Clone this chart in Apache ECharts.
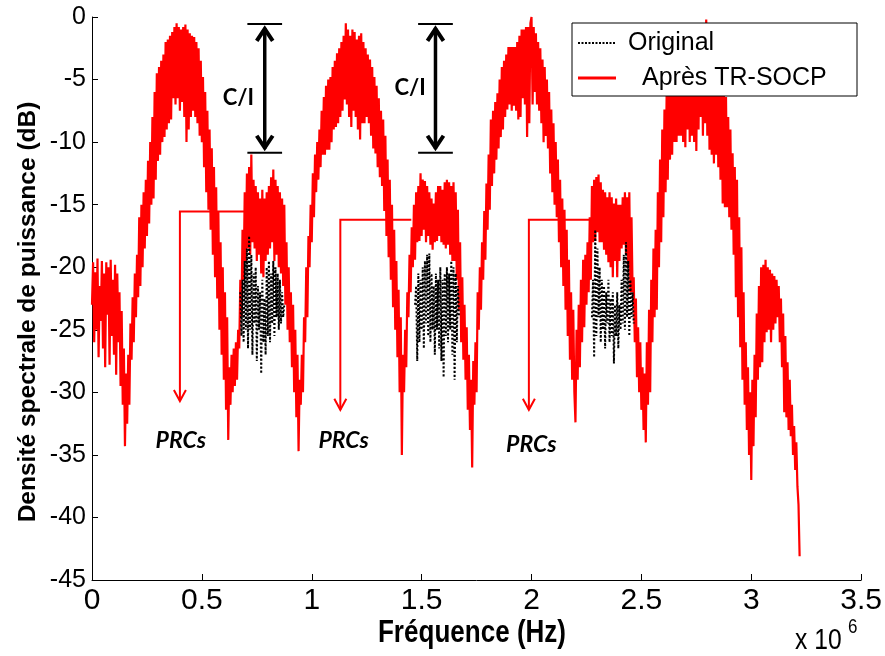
<!DOCTYPE html>
<html><head><meta charset="utf-8">
<script src="https://cdn.jsdelivr.net/npm/echarts/dist/echarts.min.js"></script>
<style>html,body{margin:0;padding:0;background:#fff}#c{width:885px;height:656px}</style>
</head><body><div id="c"></div>
<script>
// ---- data (frequency in units of 1e6 Hz, PSD in dB) ----
const xTicks = [0, 0.5, 1, 1.5, 2, 2.5, 3, 3.5];
const yTicks = [-45, -40, -35, -30, -25, -20, -15, -10, -5, 0];
const seriesNames = ['Original', 'Après TR-SOCP'];

// "Après TR-SOCP" spectrum, sampled every 0.005 (x 1e6 Hz) from 0 (one row = 0.05)
const apresStart = 0.0, apresStep = 0.005;
const apresTR = [
 -23.0,-19.6,-26.0,-20.4,-25.0,-19.3,-27.2,-21.5,-24.3,-19.5,
 -26.5,-20.5,-28.0,-19.6,-23.8,-20.0,-27.8,-19.4,-25.5,-21.0,
 -27.0,-19.8,-28.6,-20.5,-26.0,-22.0,-29.5,-23.5,-31.0,-26.5,
 -34.3,-28.5,-32.5,-27.0,-31.0,-24.5,-27.4,-22.4,-26.0,-20.5,
 -24.0,-19.0,-22.4,-16.0,-21.5,-15.0,-20.0,-14.0,-18.5,-13.0,
 -17.5,-11.5,-16.5,-10.0,-15.0,-8.0,-14.5,-6.0,-13.0,-4.5,
 -11.5,-4.0,-11.0,-3.5,-10.0,-3.0,-9.6,-2.0,-9.0,-1.8,
 -8.5,-1.5,-8.2,-1.2,-6.5,-0.8,-7.0,-0.5,-6.5,-0.8,
 -7.5,-1.0,-6.8,-0.8,-8.0,-0.6,-10.0,-1.0,-9.0,-1.3,
 -8.0,-1.5,-7.5,-1.6,-8.0,-2.0,-8.5,-2.5,-9.5,-3.5,
 -10.0,-4.8,-12.0,-6.0,-14.0,-7.5,-15.4,-9.0,-17.0,-10.5,
 -19.0,-12.0,-20.8,-13.6,-22.5,-15.5,-25.0,-18.0,-27.0,-20.0,
 -29.0,-22.0,-31.4,-24.0,-33.8,-28.0,-31.0,-27.0,-30.0,-26.5,
 -29.5,-26.0,-29.0,-25.0,-26.5,-21.0,-24.0,-17.0,-21.0,-14.0,
 -19.5,-12.5,-18.5,-12.0,-19.0,-11.0,-18.0,-13.0,-18.5,-13.5,
 -19.5,-14.0,-19.0,-14.5,-20.5,-13.8,-20.8,-14.5,-19.5,-14.0,
 -19.0,-13.5,-18.5,-12.8,-18.0,-12.2,-19.5,-13.0,-19.0,-13.5,
 -20.0,-14.0,-20.5,-14.5,-21.5,-15.0,-23.0,-18.0,-25.0,-20.0,
 -26.0,-22.0,-28.0,-23.0,-30.0,-25.0,-32.0,-27.0,-34.7,-29.0,
 -31.0,-27.0,-30.0,-24.0,-26.0,-20.0,-24.0,-17.5,-20.0,-15.0,
 -18.0,-12.5,-16.0,-11.0,-14.0,-10.0,-13.0,-9.0,-12.0,-7.5,
 -11.0,-6.4,-11.0,-5.5,-10.6,-5.0,-10.6,-4.8,-10.0,-4.0,
 -9.0,-3.5,-8.8,-2.9,-8.5,-2.5,-8.0,-2.0,-7.5,-1.5,
 -6.6,-0.5,-7.0,-1.0,-8.0,-1.5,-8.8,-1.0,-7.5,-1.2,
 -8.0,-1.8,-9.0,-1.5,-9.8,-1.3,-8.5,-2.0,-8.5,-2.5,
 -8.0,-3.0,-8.5,-3.4,-9.5,-4.0,-10.5,-4.8,-10.9,-5.5,
 -12.0,-6.5,-12.8,-7.5,-13.5,-8.2,-15.5,-9.5,-17.5,-11.4,
 -19.2,-13.0,-21.0,-15.0,-23.2,-17.0,-25.0,-19.5,-27.2,-21.8,
 -30.0,-24.0,-35.0,-27.0,-30.0,-25.0,-28.0,-22.0,-24.0,-19.0,
 -22.0,-16.8,-20.0,-15.0,-19.4,-14.0,-18.0,-13.5,-17.9,-12.5,
 -17.5,-13.0,-17.0,-13.1,-18.0,-13.5,-17.5,-14.0,-18.2,-14.5,
 -18.6,-14.9,-18.0,-14.0,-17.9,-13.5,-17.5,-13.5,-18.0,-13.8,
 -18.2,-13.2,-18.5,-13.0,-18.2,-13.2,-19.0,-13.5,-19.5,-13.2,
 -19.5,-14.0,-21.0,-15.4,-23.4,-18.0,-26.0,-20.8,-27.4,-23.0,
 -29.0,-24.8,-31.4,-27.0,-33.0,-29.0,-36.0,-27.5,-31.0,-26.0,
 -30.0,-22.0,-25.0,-20.0,-23.4,-18.0,-21.0,-15.5,-19.4,-13.3,
 -17.0,-11.0,-15.4,-8.2,-13.5,-7.5,-12.5,-6.8,-11.4,-6.1,
 -10.5,-5.0,-9.6,-4.0,-9.0,-3.5,-8.0,-3.0,-7.4,-2.4,
 -7.0,-2.4,-7.5,-2.4,-7.1,-2.4,-7.5,-2.0,-8.2,-1.5,
 -8.0,-1.0,-6.5,-1.0,-7.0,-0.8,-9.6,-0.8,-8.5,-0.5,
 0.0,-7.0,-0.8,-6.0,-1.3,-7.0,-2.0,-7.5,-2.5,-8.5,
 -3.4,-10.0,-4.0,-9.5,-5.0,-10.5,-6.0,-12.5,-7.4,-14.0,
 -8.5,-15.0,-10.0,-16.0,-11.4,-18.0,-13.0,-20.0,-14.5,-21.5,
 -15.4,-23.4,-17.0,-25.5,-19.4,-27.4,-22.0,-29.0,-23.4,-30.0,
 -32.4,-25.0,-29.0,-23.0,-28.0,-21.0,-26.0,-19.4,-24.8,-19.0,
 -23.0,-18.0,-22.0,-16.0,-21.0,-13.5,-18.0,-13.0,-17.9,-12.8,
 -17.2,-12.6,-18.0,-13.2,-18.0,-13.8,-18.6,-14.0,-19.0,-14.4,
 -19.6,-14.0,-20.0,-14.4,-20.8,-14.9,-19.5,-14.5,-20.8,-15.0,
 -19.5,-15.0,-18.5,-14.4,-18.2,-14.0,-19.0,-14.4,-20.0,-14.0,
 -22.0,-16.0,-22.0,-20.8,-26.0,-22.5,-28.8,-24.8,-30.0,-26.0,
 -31.4,-28.0,-33.0,-28.5,-34.0,-26.0,-31.0,-23.4,-30.0,-21.0,
 -26.0,-18.5,-24.0,-17.0,-23.4,-14.0,-20.0,-11.4,-18.0,-9.0,
 -16.0,-7.4,-14.0,-6.0,-13.0,-4.8,-11.4,-4.0,-11.0,-3.0,
 -10.0,-2.5,-10.0,-2.0,-9.5,-2.0,-9.5,-2.5,-10.0,-1.5,
 -10.4,-1.5,-9.0,-1.0,-10.0,-2.0,-9.5,-1.2,-10.0,-1.0,
 -10.7,-0.8,-9.0,-0.5,-8.0,-1.0,-9.5,-0.5,-8.5,-0.2,
 -9.5,-1.5,-10.6,-2.0,-11.0,-2.5,-11.7,-3.0,-11.0,-4.0,
 -12.0,-4.5,-13.0,-5.0,-14.9,-5.5,-15.2,-6.4,-15.2,-8.0,
 -16.0,-9.0,-17.0,-10.9,-19.0,-12.0,-22.4,-13.0,-24.0,-16.0,
 -26.4,-18.4,-29.0,-22.0,-31.0,-26.0,-33.0,-28.0,-35.0,-30.0,
 -37.0,-29.0,-34.3,-27.0,-32.0,-23.7,-29.0,-21.5,-28.0,-20.0,
 -27.6,-19.8,-26.0,-19.4,-25.2,-20.0,-25.0,-20.2,-26.0,-20.5,
 -25.0,-20.7,-24.5,-21.0,-24.0,-21.5,-26.0,-22.5,-28.0,-23.7,
 -31.6,-25.5,-32.0,-27.6,-33.0,-29.0,-33.5,-31.0,-35.0,-32.7,
 -36.2,-34.0,-37.5,-39.0,-43.1
];

// "Original" spectrum where it differs from the processed one (PRC bands), step 0.005
const origStep = 0.005;
const origPRC1Start = 0.675;
const origPRC1 = [
 -22.0,-25.5,-21.0,-26.0,-19.5,-25.0,-18.5,-26.5,-17.5,-25.0,
 -19.0,-27.0,-20.5,-24.5,-20.0,-27.5,-21.5,-25.0,-22.0,-28.5,
 -21.0,-26.0,-22.5,-27.0,-20.0,-25.5,-19.5,-26.0,-20.5,-24.5,
 -19.5,-25.5,-20.0,-24.0,-20.5,-25.0,-21.0,-24.5,-22.0,-24.0,
 -23.0
];
const origPRC2Start = 1.470;
const origPRC2 = [
 -23.0,-21.5,-27.5,-20.5,-26.0,-21.0,-25.0,-20.0,-26.5,-19.5,
 -24.5,-19.0,-25.5,-18.9,-26.0,-20.5,-25.0,-21.5,-27.0,-20.5,
 -25.0,-21.0,-26.5,-20.0,-27.5,-21.0,-28.8,-20.5,-25.5,-20.0,
 -26.0,-20.5,-25.0,-19.5,-27.0,-20.0,-29.0,-20.5,-26.0,-21.5,
 -24.0
];
const origPRC3Start = 2.275;
const origPRC3 = [
 -24.0,-21.0,-27.2,-17.0,-25.5,-18.5,-24.0,-20.0,-26.0,-21.0,
 -25.0,-21.5,-26.5,-22.0,-24.5,-21.0,-26.0,-22.5,-25.5,-22.0,
 -27.7,-23.0,-25.5,-22.0,-26.5,-23.0,-25.0,-21.0,-24.5,-19.0,
 -25.0,-18.0,-24.0,-19.5,-25.5,-21.0,-24.0,-22.0,-24.5
];

// ---- annotations (data coordinates) ----
const ciArrows = [
  {x: 0.786, top: -0.55, bottom: -10.85, half: 0.079, label: [0.666, -6.47]},
  {x: 1.563, top: -0.55, bottom: -10.85, half: 0.079, label: [1.448, -5.67]}
];
const prcArrows = [
  {from: 0.693, to: 0.400, y: -15.55, tip: -30.7, label: [0.404, -33.87]},
  {from: 1.453, to: 1.130, y: -16.2, tip: -31.4, label: [1.145, -33.87]},
  {from: 2.297, to: 1.988, y: -16.2, tip: -31.4, label: [1.999, -34.19]}
];

// ---- build series tables ----
const round = v => Math.round(v * 1000) / 1000;
const redData = apresTR.map((v, i) => [round(apresStart + i * apresStep), v]);
function seg(start, arr) { return arr.map((v, i) => [round(start + i * origStep), v]); }
const blackData = [].concat(
  seg(origPRC1Start, origPRC1), [[0.9, '-']],
  seg(origPRC2Start, origPRC2), [[1.7, '-']],
  seg(origPRC3Start, origPRC3)
);

const chart = echarts.init(document.getElementById('c'), null, {renderer: 'canvas'});
const axisFont = 'Liberation Sans, Arial, sans-serif';
chart.setOption({
  animation: false,
  backgroundColor: '#fff',
  grid: {left: 92, right: 19, top: 17, bottom: 76, containLabel: false},
  legend: {show: false, data: seriesNames},
  xAxis: {
    type: 'value', min: xTicks[0], max: xTicks[xTicks.length - 1], interval: 0.5,
    axisLine: {onZero: false, lineStyle: {color: '#000', width: 1}},
    axisTick: {inside: true, length: 6, lineStyle: {color: '#000'}},
    splitLine: {show: false},
    axisLabel: {margin: 6, color: '#000', fontFamily: axisFont, fontSize: 30,
      formatter: v => String(v)}
  },
  yAxis: {
    type: 'value', min: yTicks[0], max: yTicks[yTicks.length - 1], interval: 5,
    axisLine: {show: true, onZero: false, lineStyle: {color: '#000', width: 1}},
    axisTick: {show: true, inside: true, length: 6, lineStyle: {color: '#000'}},
    splitLine: {show: false},
    axisLabel: {margin: 6, color: '#000', fontFamily: axisFont, fontSize: 25}
  },
  series: [
    {name: seriesNames[1], type: 'line', data: redData, showSymbol: false, symbol: 'none',
      sampling: null, z: 2, lineStyle: {color: '#ff0000', width: 2.2, join: 'bevel'}, itemStyle: {color: '#ff0000'}},
    {name: seriesNames[0], type: 'line', data: blackData, showSymbol: false, symbol: 'none',
      connectNulls: false, z: 3, lineStyle: {color: '#000', width: 2, type: [2, 2]}, itemStyle: {color: '#000'}}
  ]
});

const P = (x, y) => chart.convertToPixel({gridIndex: 0}, [x, y]);
const g = [];
ciArrows.forEach(a => {
  const t = P(a.x, a.top), b = P(a.x, a.bottom), l = P(a.x - a.half, a.top), r = P(a.x + a.half, a.top);
  const lb = P(a.x - a.half, a.bottom), rb = P(a.x + a.half, a.bottom);
  const st = {stroke: '#000', lineWidth: 2, fill: null};
  g.push({type: 'line', shape: {x1: l[0], y1: t[1], x2: r[0], y2: t[1]}, style: st, z: 20});
  g.push({type: 'line', shape: {x1: lb[0], y1: b[1], x2: rb[0], y2: b[1]}, style: st, z: 20});
  g.push({type: 'line', shape: {x1: t[0], y1: t[1] + 4, x2: t[0], y2: b[1] - 4}, style: {stroke: '#000', lineWidth: 3.5}, z: 20});
  g.push({type: 'polyline', shape: {points: [[t[0] - 8, t[1] + 17], [t[0], t[1] + 5], [t[0] + 8, t[1] + 17]]},
    style: {stroke: '#000', lineWidth: 4, fill: null, lineJoin: 'miter'}, z: 20});
  g.push({type: 'polyline', shape: {points: [[b[0] - 8, b[1] - 17], [b[0], b[1] - 5], [b[0] + 8, b[1] - 17]]},
    style: {stroke: '#000', lineWidth: 4, fill: null, lineJoin: 'miter'}, z: 20});
  const lp = P(a.label[0], a.label[1]);
  g.push({type: 'text', x: lp[0], y: lp[1], z: 20,
    style: {text: 'C/I', fontFamily: 'Lato, sans-serif', fontWeight: 'bold', fontSize: 22, fill: '#000', align: 'center', verticalAlign: 'middle'}});
});
prcArrows.forEach(a => {
  const s = P(a.from, a.y), c = P(a.to, a.y), tp = P(a.to, a.tip);
  g.push({type: 'polyline', shape: {points: [s, c, tp]}, style: {stroke: '#ff0000', lineWidth: 2, fill: null}, z: 20});
  g.push({type: 'polyline', shape: {points: [[tp[0] - 6, tp[1] - 11], tp, [tp[0] + 6, tp[1] - 11]]},
    style: {stroke: '#ff0000', lineWidth: 2, fill: null}, z: 20});
  const lp = P(a.label[0], a.label[1]);
  g.push({type: 'text', x: lp[0], y: lp[1], z: 20,
    style: {text: 'PRCs', fontFamily: 'Lato, sans-serif', fontWeight: 'bold', fontStyle: 'italic', fontSize: 23, fill: '#000', align: 'center', verticalAlign: 'middle'}});
});
// legend box (drawn by hand so the line samples carry no symbol)
g.push({type: 'rect', shape: {x: 572, y: 23, width: 285, height: 73}, style: {fill: '#fff', stroke: '#000', lineWidth: 1}, z: 30});
g.push({type: 'line', shape: {x1: 578, y1: 43, x2: 616, y2: 43}, style: {stroke: '#000', lineWidth: 2, lineDash: [2, 1.5]}, z: 31});
g.push({type: 'line', shape: {x1: 578, y1: 78, x2: 616, y2: 78}, style: {stroke: '#ff0000', lineWidth: 3}, z: 31});
g.push({type: 'text', x: 628, y: 43, z: 31,
  style: {text: seriesNames[0], fontFamily: axisFont, fontSize: 25, fill: '#000', align: 'left', verticalAlign: 'middle'}});
g.push({type: 'text', x: 642, y: 78, z: 31,
  style: {text: seriesNames[1], fontFamily: axisFont, fontSize: 25, fill: '#000', align: 'left', verticalAlign: 'middle'}});
// axis titles and multiplier
g.push({type: 'text', x: 472, y: 633, scaleX: 0.84, z: 20,
  style: {text: 'Fréquence (Hz)', fontFamily: axisFont, fontWeight: 'bold', fontSize: 31, fill: '#000', align: 'center', verticalAlign: 'middle'}});
g.push({type: 'text', x: 28, y: 312, rotation: Math.PI / 2, z: 20,
  style: {text: 'Densité spectrale de puissance (dB)', fontFamily: axisFont, fontWeight: 'bold', fontSize: 24.5, fill: '#000', align: 'center', verticalAlign: 'middle'}});
g.push({type: 'text', x: 795, y: 641, scaleX: 0.85, z: 20,
  style: {text: 'x 10', fontFamily: axisFont, fontSize: 29, fill: '#000', align: 'left', verticalAlign: 'middle'}});
g.push({type: 'text', x: 848, y: 627, scaleX: 0.85, z: 20,
  style: {text: '6', fontFamily: axisFont, fontSize: 20, fill: '#000', align: 'left', verticalAlign: 'middle'}});
chart.setOption({graphic: g});
</script></body></html>
